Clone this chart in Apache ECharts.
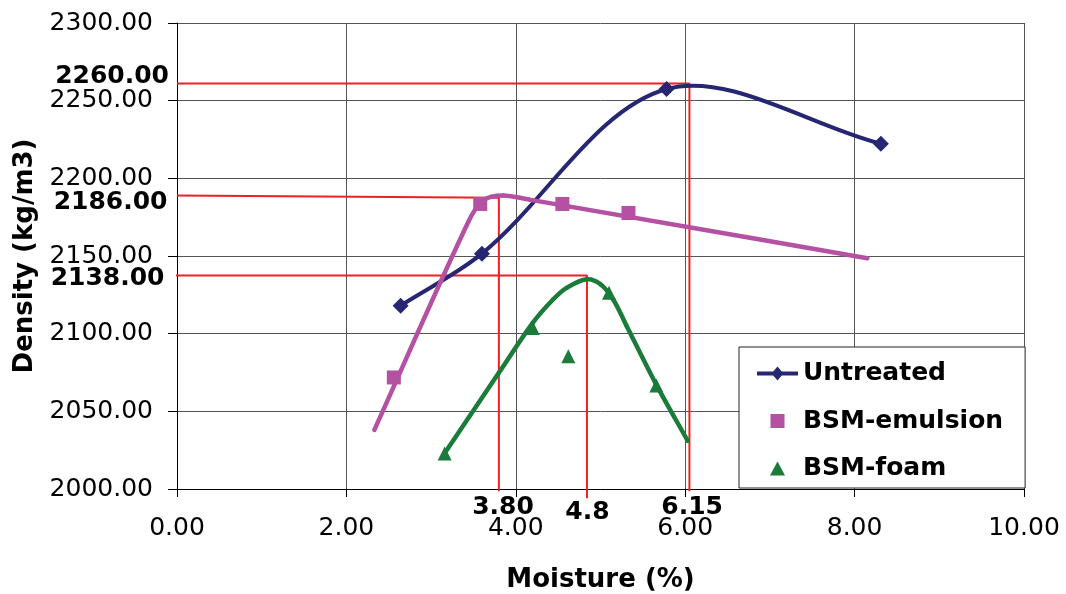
<!DOCTYPE html>
<html><head><meta charset="utf-8">
<script src="https://cdn.jsdelivr.net/npm/echarts@6/dist/echarts.min.js"></script>
<style>html,body{margin:0;padding:0;background:#fff}#c{width:1066px;height:594px}</style>
</head><body><div id="c"></div>
<script>
// ---- data ----
const seriesNames = ['Untreated', 'BSM-emulsion', 'BSM-foam'];
const untreated = [[2.64, 2118], [3.60, 2151.5], [5.78, 2257.5], [8.31, 2222.3]];
const emulsion = [[2.56, 2071.8], [3.58, 2183.5], [4.55, 2183.5], [5.33, 2177.7]];
const foam = [[3.16, 2022.9], [4.20, 2103.7], [4.62, 2085.5], [5.10, 2126.3], [5.66, 2066.6]];
// hand-drawn fitted curves in the reference (key points)
const emulsionCurve = [[2.33, 2038], [3.44, 2172], [3.62, 2186], [3.85, 2189], [4.16, 2186.3], [8.15, 2148.6]];
const foamCurve = [[3.16, 2023], [3.80, 2074.8], [4.20, 2107], [4.44, 2122], [4.60, 2129.5], [4.84, 2135],
                   [5.00, 2131.8], [5.15, 2122], [5.31, 2104.8], [5.66, 2067], [6.03, 2031]];
// red guide lines (optimum density / optimum moisture)
const guideUntreated = [[0, 2261], [6.05, 2261], [6.05, 1998.5]];
const guideEmulsion = [[0, 2189], [3.80, 2187.5], [3.80, 1998.5]];
const guideFoam = [[-0.11, 2137.5], [4.84, 2137.5], [4.84, 1994]];
const guideYLabels = ['2260.00', '2186.00', '2138.00'];
const guideXLabels = ['6.15', '3.80', '4.8'];
const xAxisRange = [0, 10, 2];
const yAxisRange = [2000, 2300, 50];
const xTitle = 'Moisture (%)';
const yTitle = 'Density (kg/m3)';

const FONT = 'DejaVu Sans';
const C_NAVY = '#262672', C_PINK = '#B451A3', C_GREEN = '#1A7B3A', C_RED = '#ED2024';

const guides = [guideUntreated, guideEmulsion, guideFoam];
const yLabelOffset = [[-7.5, -7], [-9, 8], [-12, 4]];
const xLabelOffset = [[3.2, 18.5], [4.7, 18.5], [1, 24]];

const labelData = [];
guides.forEach((g, i) => {
  labelData.push({
    value: [0, g[0][1]],
    label: { formatter: guideYLabels[i], align: 'right', offset: yLabelOffset[i] }
  });
  labelData.push({
    value: [g[1][0], yAxisRange[0]],
    label: { formatter: guideXLabels[i], align: 'center', offset: xLabelOffset[i] }
  });
});

const guideSeries = guides.map(g => ({
  type: 'line', data: g, symbol: 'none', clip: false, silent: true, z: 1,
  lineStyle: { color: C_RED, width: 2 }
}));

// smooth spline (chord-scaled Catmull-Rom) through points, in pixel space via api.coord
function splineSeries(points, color, width, z) {
  return {
    type: 'custom', data: points, encode: { x: 0, y: 1 }, clip: false, silent: true, z: z,
    renderItem: function (params, api) {
      if (params.dataIndex !== 0) return null;
      const P = points.map(p => api.coord(p));
      const n = P.length;
      const len = (a, b) => Math.hypot(b[0] - a[0], b[1] - a[1]);
      const T = P.map((p, i) => {
        const a = P[Math.max(0, i - 1)], b = P[Math.min(n - 1, i + 1)];
        const d = (i > 0 ? len(P[i - 1], p) : 0) + (i < n - 1 ? len(p, P[i + 1]) : 0);
        return [(b[0] - a[0]) / d, (b[1] - a[1]) / d];
      });
      const children = [];
      for (let i = 0; i < n - 1; i++) {
        const L = len(P[i], P[i + 1]) / 3;
        children.push({
          type: 'bezierCurve',
          shape: {
            x1: P[i][0], y1: P[i][1], x2: P[i + 1][0], y2: P[i + 1][1],
            cpx1: P[i][0] + T[i][0] * L, cpy1: P[i][1] + T[i][1] * L,
            cpx2: P[i + 1][0] - T[i + 1][0] * L, cpy2: P[i + 1][1] - T[i + 1][1] * L
          },
          style: { fill: null, stroke: color, lineWidth: width, lineCap: 'round' }
        });
      }
      return { type: 'group', children: children };
    }
  };
}

const ICON_UNTREATED = 'path://M0,5H41V9H0Z M20.5,0L26.5,7L20.5,14L14.5,7Z';
const ICON_RECT = 'path://M0,0H14V14H0Z';
const ICON_TRI = 'path://M7,0L14,13L0,13Z';

const option = {
  backgroundColor: '#fff',
  animation: false,
  grid: { left: 177, top: 23, right: 42, bottom: 105, containLabel: false, outerBoundsMode: 'none' },
  xAxis: {
    type: 'value', min: xAxisRange[0], max: xAxisRange[1], interval: xAxisRange[2],
    name: xTitle, nameLocation: 'middle', nameGap: 78,
    nameTextStyle: { fontFamily: FONT, fontWeight: 'bold', fontSize: 26, color: '#000' },
    axisLine: { lineStyle: { color: '#000', width: 1 } },
    axisTick: { show: true, length: 8, lineStyle: { color: '#000' } },
    axisLabel: { fontFamily: FONT, fontSize: 25, color: '#000', margin: 27, formatter: v => v.toFixed(2) },
    splitLine: { show: true, lineStyle: { color: '#555', width: 1 } }
  },
  yAxis: {
    type: 'value', min: yAxisRange[0], max: yAxisRange[1], interval: yAxisRange[2],
    name: yTitle, nameLocation: 'middle', nameGap: 130, nameRotate: 90,
    nameTextStyle: { fontFamily: FONT, fontWeight: 'bold', fontSize: 26, color: '#000' },
    axisLine: { show: true, lineStyle: { color: '#000', width: 1 } },
    axisTick: { show: true, length: 9, lineStyle: { color: '#000' } },
    axisLabel: { fontFamily: FONT, fontSize: 25, color: '#000', margin: 24, formatter: v => v.toFixed(2) },
    splitLine: { show: true, lineStyle: { color: '#555', width: 1 } }
  },
  legend: {
    data: [
      { name: seriesNames[0], icon: ICON_UNTREATED },
      { name: seriesNames[1], icon: ICON_RECT },
      { name: seriesNames[2], icon: ICON_TRI }
    ],
    orient: 'vertical', left: 739, top: 347,
    backgroundColor: '#fff', borderColor: '#222', borderWidth: 1,
    padding: [14, 22, 7, 18], itemGap: 22.5, itemWidth: 41, itemHeight: 14,
    textStyle: { fontFamily: FONT, fontWeight: 'bold', fontSize: 25, color: '#000' }
  },
  series: [
    ...guideSeries,
    splineSeries(untreated, C_NAVY, 4, 3),
    splineSeries(emulsionCurve, C_PINK, 4.5, 3),
    splineSeries(foamCurve, C_GREEN, 4.5, 3),
    {
      name: seriesNames[0], type: 'scatter', data: untreated, symbol: 'diamond', symbolSize: 16, z: 5,
      itemStyle: { color: C_NAVY, opacity: 1 }
    },
    {
      name: seriesNames[1], type: 'scatter', data: emulsion, symbol: 'rect', symbolSize: 14, z: 4,
      itemStyle: { color: C_PINK, opacity: 1 }
    },
    {
      name: seriesNames[2], type: 'scatter', data: foam, symbol: 'triangle', symbolSize: 14, z: 4,
      itemStyle: { color: C_GREEN, opacity: 1 }
    },
    {
      type: 'scatter', data: labelData, symbolSize: 1, clip: false, silent: true, z: 6,
      itemStyle: { color: 'rgba(255,255,255,0)' },
      label: {
        show: true, position: [0, 0], verticalAlign: 'middle',
        fontFamily: FONT, fontWeight: 'bold', fontSize: 25, color: '#000',
        textBorderWidth: 0, opacity: 1
      }
    }
  ]
};
const chart = echarts.init(document.getElementById('c'), null, { renderer: 'canvas' });
chart.setOption(option);
</script>
</body></html>
